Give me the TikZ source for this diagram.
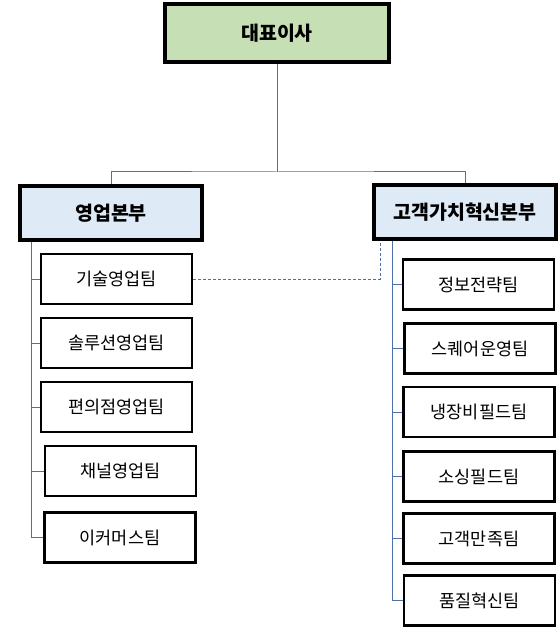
\documentclass[tikz,border=0pt]{standalone}
\usepackage{fontspec}
\setmainfont{Noto Sans CJK KR}
\usepackage{xcolor}
\usepackage{tikz}
\usetikzlibrary{positioning}
\definecolor{ceogreen}{HTML}{C6DFB4}
\definecolor{headblue}{HTML}{DEEAF6}
\definecolor{linkblue}{HTML}{4F6FA8}

\begin{document}
\begin{tikzpicture}[x=1pt, y=-1pt,
    ceobox/.style={draw, line width=4pt, fill=ceogreen, minimum width=224pt, minimum height=58pt, font=\fontsize{19.5}{22}\selectfont\bfseries},
    headbox/.style={draw, line width=4pt, fill=headblue, minimum width=182pt, minimum height=54pt, font=\fontsize{19.5}{22}\selectfont\bfseries},
    teambox/.style={draw, line width=2.5pt, fill=white, minimum width=151pt, minimum height=50pt, font=\fontsize{17.5}{20}\selectfont},
    link/.style={draw=linkblue, line width=1pt},
    dotlink/.style={draw=linkblue, line width=0.9pt, densely dashed}]
    \useasboundingbox (0,0) rectangle (558,628);

    % ── TOP ───────────────────────────────────────────────────────────
    \node[ceobox] (ceo) at (277,33) {대표이사};
    \coordinate (bus) at (277,172);

    % ── HEADQUARTERS ──────────────────────────────────────────────────
    \node[headbox] (sales) at (111,213) {영업본부};
    \node[headbox] (cvi) at (465,212) {고객가치혁신본부};

    \draw[link] (ceo.south) -- (bus);
    \draw[link] (sales.north) |- (bus) -| (cvi.north);

    % ── LEFT: SALES TEAMS ─────────────────────────────────────────────
    \node[teambox] (tech) at (116.5,279) {기술영업팀};
    \node[teambox] (solution) at (116.5,343) {솔루션영업팀};
    \node[teambox] (cvs) at (116.5,407) {편의점영업팀};
    \node[teambox] (channel) at (120.5,471) {채널영업팀};
    \node[teambox] (ecom) at (120,537.5) {이커머스팀};

    \coordinate (lspine) at (31,242);
    \foreach \t in {tech, solution, cvs, channel, ecom}
        \draw[link] (lspine) |- (\t.west);

    % ── RIGHT: CUSTOMER VALUE TEAMS ───────────────────────────────────
    \node[teambox] (info) at (478.5,284.5) {정보전략팀};
    \node[teambox] (square) at (480,348.5) {스퀘어운영팀};
    \node[teambox] (cold) at (479,412) {냉장비필드팀};
    \node[teambox] (sourcing) at (479,476.5) {소싱필드팀};
    \node[teambox] (cs) at (479,538.5) {고객만족팀};
    \node[teambox] (quality) at (479.5,600.5) {품질혁신팀};

    \coordinate (rspine) at (392,241);
    \foreach \t in {info, square, cold, sourcing, cs, quality}
        \draw[link] (rspine) |- (\t.west);

    % Dotted line: tech sales to customer value HQ
    \coordinate (rdot) at (380,241);
    \draw[dotlink] (tech.east) -| (rdot);
\end{tikzpicture}
\end{document}
